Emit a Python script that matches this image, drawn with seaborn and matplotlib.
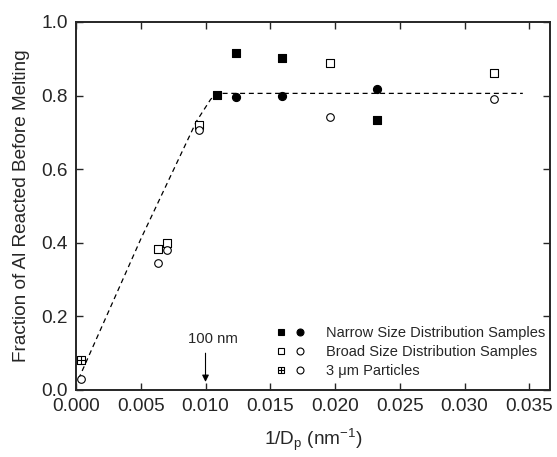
import numpy as np
import pandas as pd
import matplotlib
matplotlib.use("Agg")
import matplotlib.pyplot as plt
import seaborn as sns
from matplotlib.legend_handler import HandlerTuple
from matplotlib.lines import Line2D
from matplotlib.path import Path

# ---- data ----
narrow_sq_x = [0.0109, 0.01236, 0.0159, 0.02328]
narrow_sq_y = [0.801, 0.915, 0.903, 0.734]
narrow_ci_x = [0.01236, 0.0159, 0.02328]
narrow_ci_y = [0.797, 0.800, 0.818]
broad_sq_x = [0.00631, 0.00706, 0.00953, 0.01963, 0.03225]
broad_sq_y = [0.382, 0.400, 0.720, 0.888, 0.861]
broad_ci_x = [0.00631, 0.00706, 0.00953, 0.01963, 0.03225]
broad_ci_y = [0.344, 0.380, 0.707, 0.743, 0.791]
big_sq_x = [0.00041]
big_sq_y = [0.0815]
big_ci_x = [0.00036]
big_ci_y = [0.030]
fit_x = [0.0002, 0.0050, 0.0093, 0.0104, 0.0109, 0.0345]
fit_y = [0.03, 0.41, 0.73, 0.79, 0.806, 0.806]

x_ticks = [0.000, 0.005, 0.010, 0.015, 0.020, 0.025, 0.030, 0.035]
y_ticks = [0.0, 0.2, 0.4, 0.6, 0.8, 1.0]

sns.set_style("ticks")
plt.rcParams['font.family'] = ['Liberation Sans', 'DejaVu Sans']
plt.rcParams['mathtext.fontset'] = 'custom'
plt.rcParams['mathtext.rm'] = 'Liberation Sans'
plt.rcParams['mathtext.it'] = 'Liberation Sans:italic'

# crossed-square marker
boxplus = Path(
    [(-1, -1), (1, -1), (1, 1), (-1, 1), (-1, -1),
     (0, -1), (0, 1), (-1, 0), (1, 0)],
    [Path.MOVETO, Path.LINETO, Path.LINETO, Path.LINETO, Path.CLOSEPOLY,
     Path.MOVETO, Path.LINETO, Path.MOVETO, Path.LINETO])

fig = plt.figure(figsize=(5.57, 4.57), dpi=100)
ax = fig.add_axes([76/557, 1-390/457, (550-76)/557, (390-22)/457])

fit = pd.DataFrame({"x": fit_x, "y": fit_y})
sns.lineplot(data=fit, x="x", y="y", ax=ax, color="black", lw=0.9,
             linestyle=(0, (4, 3)), sort=False, estimator=None)

ms = 36
sns.scatterplot(x=narrow_sq_x, y=narrow_sq_y, ax=ax, marker="s", s=ms,
                color="black", edgecolor="black", linewidth=0.8, zorder=3)
sns.scatterplot(x=narrow_ci_x, y=narrow_ci_y, ax=ax, marker="o", s=34,
                color="black", edgecolor="black", linewidth=0.8, zorder=3)
sns.scatterplot(x=broad_sq_x, y=broad_sq_y, ax=ax, marker="s", s=ms,
                facecolor="white", edgecolor="black", linewidth=0.8, zorder=3)
sns.scatterplot(x=broad_ci_x, y=broad_ci_y, ax=ax, marker="o", s=30,
                facecolor="white", edgecolor="black", linewidth=0.8, zorder=3)
sns.scatterplot(x=big_sq_x, y=big_sq_y, ax=ax, marker=boxplus, s=ms,
                facecolor="white", edgecolor="black", linewidth=0.8, zorder=3)
sns.scatterplot(x=big_ci_x, y=big_ci_y, ax=ax, marker="o", s=30,
                facecolor="white", edgecolor="black", linewidth=0.8, zorder=3)

ax.set_xlim(0.0, 0.0366)
ax.set_ylim(0.0, 1.0)
ax.set_xticks(x_ticks)
ax.set_xticklabels([f"{v:.3f}" for v in x_ticks])
ax.set_yticks(y_ticks)
ax.set_yticklabels([f"{v:.1f}" for v in y_ticks])
ax.tick_params(direction="in", length=5, width=1, labelsize=13.7,
               top=True, right=True, pad=6)
for s in ax.spines.values():
    s.set_linewidth(1.4)
    s.set_visible(True)

ax.set_xlabel("1/D$_\\mathregular{p}$ (nm$^{\\mathregular{-1}}$)", fontsize=13.7, labelpad=8)
ax.set_ylabel("Fraction of Al Reacted Before Melting", fontsize=13.7, labelpad=8)

ax.text(0.01055, 0.139, "100 nm", ha="center", va="center", fontsize=10.7)
ax.annotate("", xy=(0.0100, 0.022), xytext=(0.0100, 0.100),
            arrowprops=dict(arrowstyle="-|>", color="black", lw=0.8,
                            mutation_scale=10, shrinkA=0, shrinkB=0))

lk = dict(linestyle="none", markeredgecolor="black", markeredgewidth=0.8)
h1 = (Line2D([], [], marker="s", markersize=5, markerfacecolor="black", **lk),
      Line2D([], [], marker="o", markersize=5, markerfacecolor="black", **lk))
h2 = (Line2D([], [], marker="s", markersize=5, markerfacecolor="white", **lk),
      Line2D([], [], marker="o", markersize=5, markerfacecolor="white", **lk))
h3 = (Line2D([], [], marker=boxplus, markersize=5, markerfacecolor="white", **lk),
      Line2D([], [], marker="o", markersize=5, markerfacecolor="white", **lk))
ax.legend([h1, h2, h3],
          ["Narrow Size Distribution Samples", "Broad Size Distribution Samples",
           "3 \u03bcm Particles"],
          handler_map={tuple: HandlerTuple(ndivide=None, pad=0.6)},
          loc="lower right", bbox_to_anchor=(545/557, 1-378/457),
          bbox_transform=fig.transFigure, frameon=False, fontsize=10.5,
          handlelength=2.0, handletextpad=1.4, labelspacing=0.35,
          borderpad=0, borderaxespad=0)

fig.savefig("out.png", dpi=100)
